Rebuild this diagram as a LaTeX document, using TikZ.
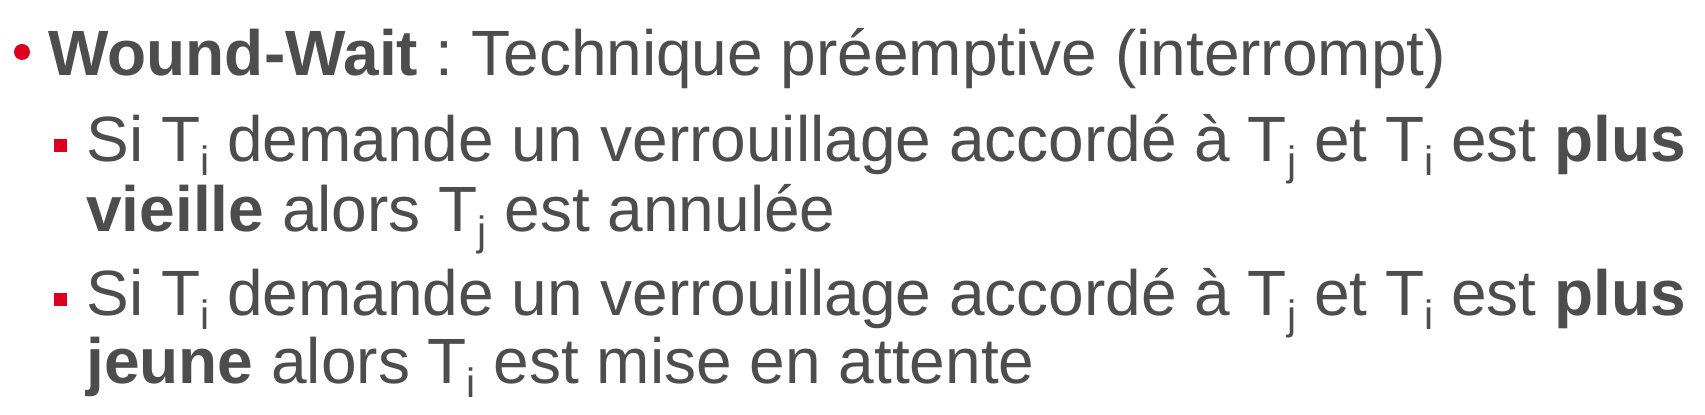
\documentclass[tikz,border=0pt]{standalone}
\usepackage{fontspec}
\setmainfont{Liberation Sans}
\usepackage{xcolor}
\usetikzlibrary{positioning}
\definecolor{txtgray}{RGB}{77,77,77}
\definecolor{bulred}{RGB}{220,0,30}
\newcommand{\Tx}[1]{T\raisebox{-7pt}{\fontsize{20.5}{20.5}\selectfont #1}}
\frenchspacing
\begin{document}
\begin{tikzpicture}[x=0.5pt,y=-0.5pt,
    line/.style={anchor=base west,inner sep=0pt,text=txtgray,font=\fontsize{32}{38}\selectfont},
    dot/.style={circle,fill=bulred,inner sep=0pt,minimum size=8pt},
    sq/.style={rectangle,fill=bulred,inner sep=0pt,minimum size=6.5pt}]
            \useasboundingbox (0,0) rectangle (1705,415);
            \node [dot] (b1) at (22,52) {};
            \node [line] (l1) at (48,76) {\textbf{Wound-Wait} : Technique préemptive (interrompt)};
            \node [sq] (b2) at (60,146) {};
            \node [line] (l2) at (86,162) {Si \Tx{i} demande un verrouillage accordé à \Tx{j} et \Tx{i} est \textbf{plus}};
            \node [line] (l3) at (86,232) {\textbf{vieille} alors \Tx{j} est annulée};
            \node [sq] (b3) at (60,300) {};
            \node [line] (l4) at (86,316) {Si \Tx{i} demande un verrouillage accordé à \Tx{j} et \Tx{i} est \textbf{plus}};
            \node [line] (l5) at (86,384) {\textbf{jeune} alors \Tx{i} est mise en attente};
        \end{tikzpicture}
\end{document}
